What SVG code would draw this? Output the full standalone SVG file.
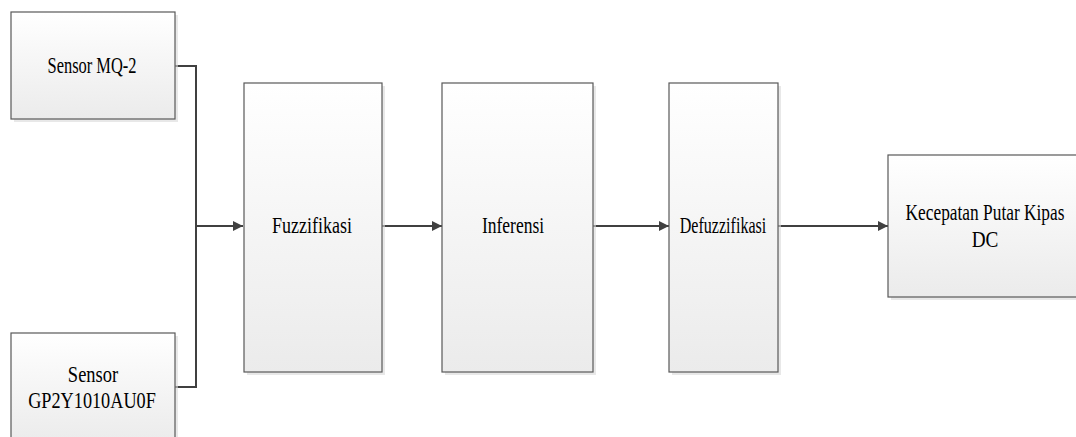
<svg xmlns="http://www.w3.org/2000/svg" width="1076" height="437" viewBox="0 0 1076 437">
  <defs>
    <linearGradient id="boxFill" x1="0" y1="0" x2="0" y2="1">
      <stop offset="0" stop-color="#ffffff"/>
      <stop offset="1" stop-color="#ebebeb"/>
    </linearGradient>
    <marker id="arrow" viewBox="0 0 10 10" refX="10" refY="5" markerWidth="10" markerHeight="10" markerUnits="userSpaceOnUse" orient="auto">
      <path d="M0,0 L10,5 L0,10 z" fill="#404040"/>
    </marker>
  </defs>
  <style>
    .shadow { fill: #d9d9d9; opacity: 0.6; }
    .box { fill: url(#boxFill); stroke: #595959; stroke-width: 1.2; }
    .label { font-family: 'Liberation Serif', serif; font-size: 24px; fill: #000; text-anchor: middle; }
    .wire { fill: none; stroke: #404040; stroke-width: 2; }
  </style>
  <rect width="1076" height="437" fill="#ffffff"/>

  <g id="connectors">
    <polyline class="wire" points="175,66 196,66 196,387 175,387"/>
    <line class="wire" x1="196" y1="226" x2="243" y2="226" marker-end="url(#arrow)"/>
    <line class="wire" x1="382" y1="226" x2="442" y2="226" marker-end="url(#arrow)"/>
    <line class="wire" x1="593" y1="226" x2="669" y2="226" marker-end="url(#arrow)"/>
    <line class="wire" x1="778" y1="226" x2="888" y2="226" marker-end="url(#arrow)"/>
  </g>

  <!-- labels use a narrowed serif face: scaled horizontally about their anchor -->
  <g id="sensor-mq2">
    <rect class="shadow" x="14" y="15" width="164" height="107"/>
    <rect class="box" x="11" y="12" width="164" height="107"/>
    <text class="label" transform="translate(92,73) scale(0.685,1)">Sensor MQ-2</text>
  </g>

  <g id="sensor-gp2y">
    <rect class="shadow" x="14" y="336" width="164" height="110"/>
    <rect class="box" x="11" y="333" width="164" height="110"/>
    <text class="label" transform="translate(93,382) scale(0.77,1)">Sensor</text>
    <text class="label" transform="translate(92,408) scale(0.76,1)">GP2Y1010AU0F</text>
  </g>

  <g id="fuzzifikasi">
    <rect class="shadow" x="247" y="86" width="138" height="289"/>
    <rect class="box" x="244" y="83" width="138" height="289"/>
    <text class="label" transform="translate(312,233) scale(0.75,1)">Fuzzifikasi</text>
  </g>

  <g id="inferensi">
    <rect class="shadow" x="445" y="86" width="151" height="289"/>
    <rect class="box" x="442" y="83" width="151" height="289"/>
    <text class="label" transform="translate(513,233) scale(0.73,1)">Inferensi</text>
  </g>

  <g id="defuzzifikasi">
    <rect class="shadow" x="672" y="86" width="109" height="289"/>
    <rect class="box" x="669" y="83" width="109" height="289"/>
    <text class="label" transform="translate(723,233) scale(0.67,1)">Defuzzifikasi</text>
  </g>

  <g id="kecepatan-kipas">
    <rect class="shadow" x="891" y="158" width="200" height="142"/>
    <rect class="box" x="888" y="155" width="200" height="142"/>
    <text class="label" transform="translate(985,220) scale(0.723,1)">Kecepatan Putar Kipas</text>
    <text class="label" transform="translate(985,247) scale(0.8,1)">DC</text>
  </g>
</svg>
